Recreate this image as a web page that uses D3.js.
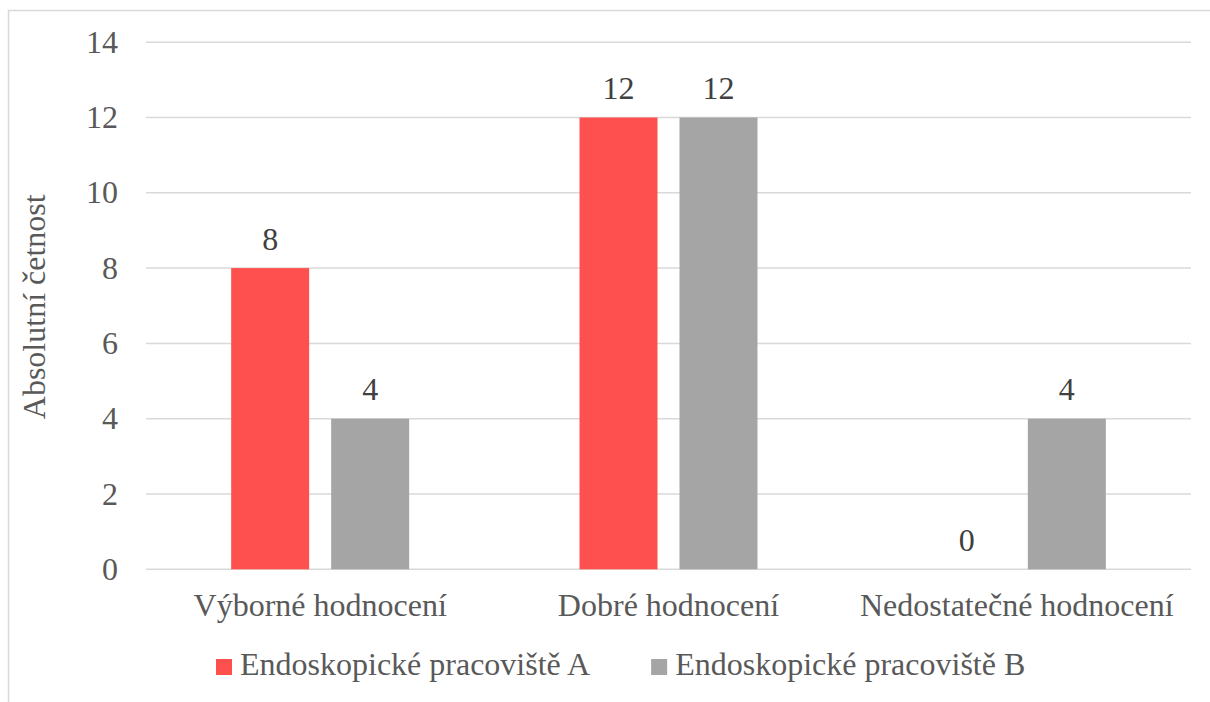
<!DOCTYPE html>
<html>
<head>
<meta charset="utf-8">
<script src="https://cdn.jsdelivr.net/npm/d3@7"></script>
<style>
  html, body { margin: 0; padding: 0; background: #fff; overflow: hidden; }
</style>
</head>
<body>
<div id="chart"></div>
<script>
// data
const categories = ["Výborné hodnocení", "Dobré hodnocení", "Nedostatečné hodnocení"];
const seriesNames = ["Endoskopické pracoviště A", "Endoskopické pracoviště B"];
const valuesA = [8, 12, 0];
const valuesB = [4, 12, 4];
const yTicks = [0, 2, 4, 6, 8, 10, 12, 14];
const yTitle = "Absolutní četnost";

const colors = ["#FF5050", "#A5A5A5"];
const width = 1210, height = 702;
const plot = {left: 146, right: 1191, top: 42.2, bottom: 569.3};
const fontSize = 32;
const fontFamily = "Liberation Serif";

const svg = d3.select('#chart').append('svg')
  .attr('width', width).attr('height', height)
  .style('font-family', fontFamily);

// chart border (cropped on right and bottom)
svg.append('rect')
  .attr('x', 8.5).attr('y', 10.5)
  .attr('width', 1260).attr('height', 760)
  .attr('fill', 'none').attr('stroke', '#D9D9D9').attr('stroke-width', 1.5);

const x0 = d3.scaleBand().domain(categories).range([plot.left, plot.right]);
const x1 = d3.scaleBand().domain(seriesNames).range([0, x0.bandwidth()])
  .paddingInner(0.22).paddingOuter(0.8517);
const y = d3.scaleLinear().domain([0, 14]).range([plot.bottom, plot.top]);

// gridlines
svg.append('g').selectAll('line').data(yTicks).join('line')
  .attr('x1', plot.left).attr('x2', plot.right)
  .attr('y1', d => y(d)).attr('y2', d => y(d))
  .attr('stroke', '#D9D9D9').attr('stroke-width', 1.5);

// y tick labels
svg.append('g').selectAll('text').data(yTicks).join('text')
  .attr('x', 118).attr('y', d => y(d) + 10.5)
  .attr('text-anchor', 'end')
  .attr('font-size', fontSize).attr('fill', '#595959')
  .text(d => d);

// y axis title
svg.append('text')
  .attr('transform', `translate(45, ${(plot.top + plot.bottom) / 2 + 1}) rotate(-90)`)
  .attr('text-anchor', 'middle')
  .attr('font-size', fontSize).attr('fill', '#595959')
  .text(yTitle);

// bars
const rows = categories.map((c, i) => ({cat: c, vals: [
  {s: seriesNames[0], v: valuesA[i], c: colors[0]},
  {s: seriesNames[1], v: valuesB[i], c: colors[1]}
]}));

const groups = svg.append('g').selectAll('g').data(rows).join('g')
  .attr('transform', d => `translate(${x0(d.cat)},0)`);

groups.selectAll('rect').data(d => d.vals).join('rect')
  .attr('x', d => x1(d.s)).attr('width', x1.bandwidth())
  .attr('y', d => y(d.v)).attr('height', d => y(0) - y(d.v))
  .attr('fill', d => d.c);

groups.selectAll('text').data(d => d.vals).join('text')
  .attr('x', d => x1(d.s) + x1.bandwidth() / 2)
  .attr('y', d => y(d.v) - 18.5)
  .attr('text-anchor', 'middle')
  .attr('font-size', fontSize).attr('fill', '#404040')
  .text(d => d.v);

// category labels
svg.append('g').selectAll('text').data(categories).join('text')
  .attr('x', d => x0(d) + x0.bandwidth() / 2).attr('y', 616)
  .attr('text-anchor', 'middle')
  .attr('font-size', fontSize).attr('fill', '#595959')
  .text(d => d);

// legend
const legend = svg.append('g');
const items = legend.selectAll('g').data(seriesNames).join('g');
items.append('rect')
  .attr('y', 659).attr('width', 16).attr('height', 16)
  .attr('fill', (d, i) => colors[i]);
items.append('text')
  .attr('x', 24).attr('y', 675)
  .attr('font-size', fontSize).attr('fill', '#595959')
  .text(d => d);

svg.selectAll('text').style('font-family', fontFamily);

let cx = 216;
items.each(function() {
  const g = d3.select(this);
  g.attr('transform', `translate(${cx},0)`);
  cx += 24 + g.select('text').node().getComputedTextLength() + 61;
});
</script>
</body>
</html>
